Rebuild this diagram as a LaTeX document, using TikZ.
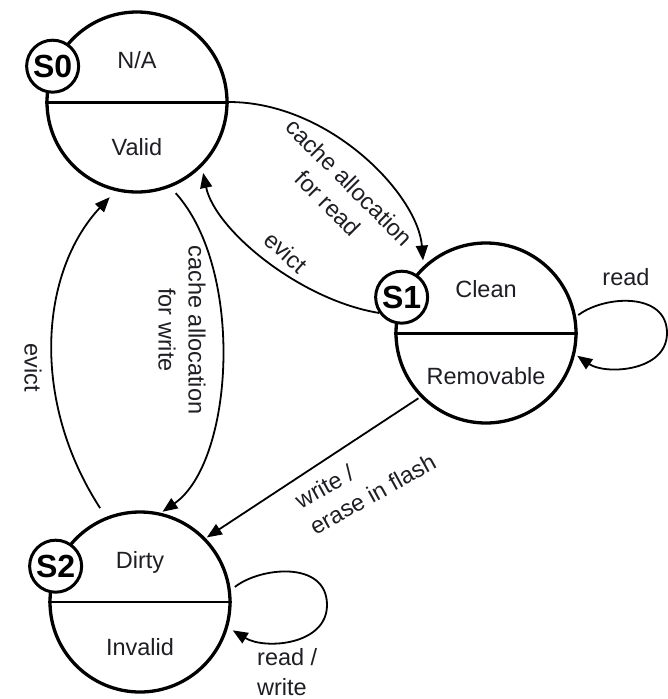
\documentclass[tikz,border=0pt]{standalone}
\usepackage{fontspec}
\setmainfont{Liberation Sans}
\usetikzlibrary{arrows.meta,calc}
\definecolor{ink}{RGB}{30,30,36}
\begin{document}
\begin{tikzpicture}[x=1pt,y=-1pt,
  state/.style={circle,draw,line width=3.3pt,minimum size=180pt,inner sep=0pt},
  tag/.style={circle,draw,fill=white,line width=3pt,minimum size=52pt,inner sep=0pt,font=\fontsize{32}{32}\selectfont\bfseries},
  txt/.style={font=\fontsize{23.5}{29}\selectfont,inner sep=0pt,text=ink},
  lbl/.style={font=\fontsize{23.5}{30}\selectfont,inner sep=0pt,align=center,text=ink},
  tr/.style={line width=1.8pt,-{Triangle[length=15pt,width=12pt]}},
  loopline/.style={line width=1.8pt,-{Triangle[length=15pt,width=12pt]}},
]
\useasboundingbox[fill=white] (0,0) rectangle (668,699);

% states
\node[state] (S0) at (137,102) {};
\node[state] (S1) at (486,333) {};
\node[state] (S2) at (140,602) {};

% dividers
\draw[line width=3pt] (S0.west) -- (S0.east);
\draw[line width=3pt] (S1.west) -- (S1.east);
\draw[line width=1.7pt] (S2.west) -- (S2.east);

% state texts
\node[txt] (t0a) at ($(S0)+(0,-42)$) {N/A};
\node[txt] (t0b) at ($(S0)+(0,45)$) {Valid};
\node[txt] (t1a) at ($(S1)+(0,-44)$) {Clean};
\node[txt] (t1b) at ($(S1)+(0,43)$) {Removable};
\node[txt] (t2a) at ($(S2)+(0,-40)$) {Dirty};
\node[txt] (t2b) at ($(S2)+(0,45)$) {Invalid};

% tags
\node[tag] (L0) at (S0.157) {S0};
\node[tag] (L1) at (S1.157) {S1};
\node[tag] (L2) at (S2.157) {S2};

% connectors
\draw[tr] (S0.east) .. controls (330,102) and (418,195) .. ($(S1)+(131:96pt)$);
\draw[tr] (L1.215) .. controls (300,300) and (215,230) .. ($(S0)+(-47:97pt)$);
\draw[tr] ($(S0)+(-67:99pt)$) .. controls (245,270) and (234,462) .. ($(S2)+(76:93pt)$);
\draw[tr] ($(S2)+(113:102pt)$) .. controls (30,400) and (40,272) .. ($(S0)+(254:99pt)$);
\draw[tr] ($(S1)+(224:94pt)$) -- ($(S2)+(44:93pt)$);
\draw[loopline] ($(S1)+(11:94pt)$) .. controls (605,295) and (667,292) .. (667,333)
   .. controls (667,372) and (605,375) .. ($(S1)+(-14:94pt)$);
\draw[loopline] ($(S2)+(9:96pt)$) .. controls (260,567) and (327,560) .. (327,605)
   .. controls (327,645) and (265,650) .. ($(S2)+(-17:97pt)$);

% labels
\node[lbl,rotate=-45] (la) at (339,193) {cache allocation\\for read};
\node[lbl,rotate=-42] (lb) at (286,252) {evict};
\node[lbl,rotate=-90] (lc) at (182,330) {cache allocation\\for write};
\node[lbl,rotate=-90] (ld) at (33,368) {evict};
\node[lbl,rotate=29,anchor=west,align=left] (le) at (304,515) {write /\\erase in flash};
\node[lbl] (lf) at (626,277) {read};
\node[lbl,anchor=west,align=left] (lg) at (257,672) {read /\\write};
\end{tikzpicture}
\end{document}
